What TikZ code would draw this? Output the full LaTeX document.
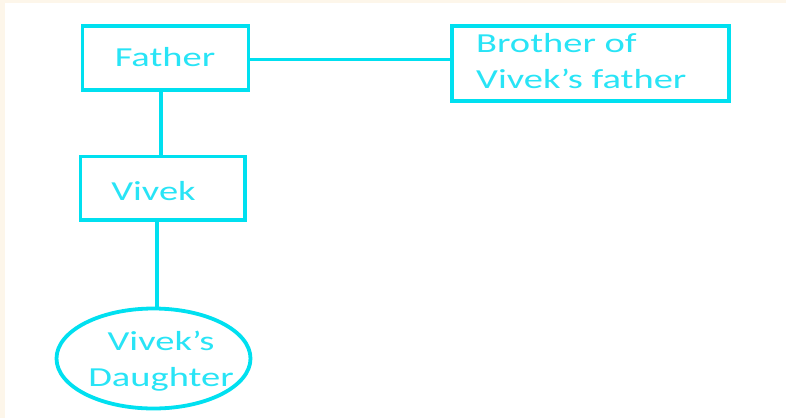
\documentclass[tikz,border=0pt]{standalone}
\usepackage{fontspec}
\setmainfont{Carlito}[FakeStretch=1.4]
\usetikzlibrary{shapes.geometric}
\definecolor{cream}{RGB}{253,246,234}
\definecolor{linecyan}{RGB}{0,224,240}
\definecolor{textcyan}{RGB}{40,228,246}
\tikzset{
  boxnode/.style={draw=linecyan, line width=3.8pt, rectangle, inner sep=0pt},
  ovalnode/.style={draw=linecyan, line width=3.8pt, ellipse, inner sep=0pt},
  link/.style={draw=linecyan, line width=3.6pt},
  lbl/.style={text=textcyan, font=\fontsize{27.5}{36}\selectfont, inner sep=0pt}
}
\begin{document}
\begin{tikzpicture}[x=1pt,y=-1pt]
  \fill[cream] (0,0) rectangle (786,418);
  \fill[white] (5,3) rectangle (786,418);
  \useasboundingbox (0,0) rectangle (786,418);

  \node[boxnode, minimum width=166pt, minimum height=64pt] (father) at (165.5,57.6) {};
  \node[boxnode, minimum width=164.5pt, minimum height=63.5pt] (vivek) at (162.75,188.25) {};
  \node[boxnode, minimum width=277pt, minimum height=75pt] (brother) at (590.8,63.4) {};
  \node[ovalnode, minimum width=194pt, minimum height=100pt] (daughter) at (153.5,358.5) {};

  \node[lbl, anchor=base] (tfather) at (165,66.5) {Father};
  \node[lbl, anchor=base] (tvivek) at (153.5,200) {Vivek};
  \node[lbl, anchor=base west, align=left] (tbrother) at (476,88) {Brother of\\Vivek’s father};
  \node[lbl, anchor=base, align=center] (tdaughter) at (161,386) {Vivek’s\\Daughter};

  \coordinate (c1) at (161,0);
  \coordinate (c2) at (157,0);
  \coordinate (c3) at (0,59.5);
  \draw[link] (father.south -| c1) -- (vivek.north -| c1);
  \draw[link] (vivek.south -| c2) -- (daughter.north -| c2);
  \draw[link] (father.east |- c3) -- (brother.west |- c3);
\end{tikzpicture}
\end{document}
